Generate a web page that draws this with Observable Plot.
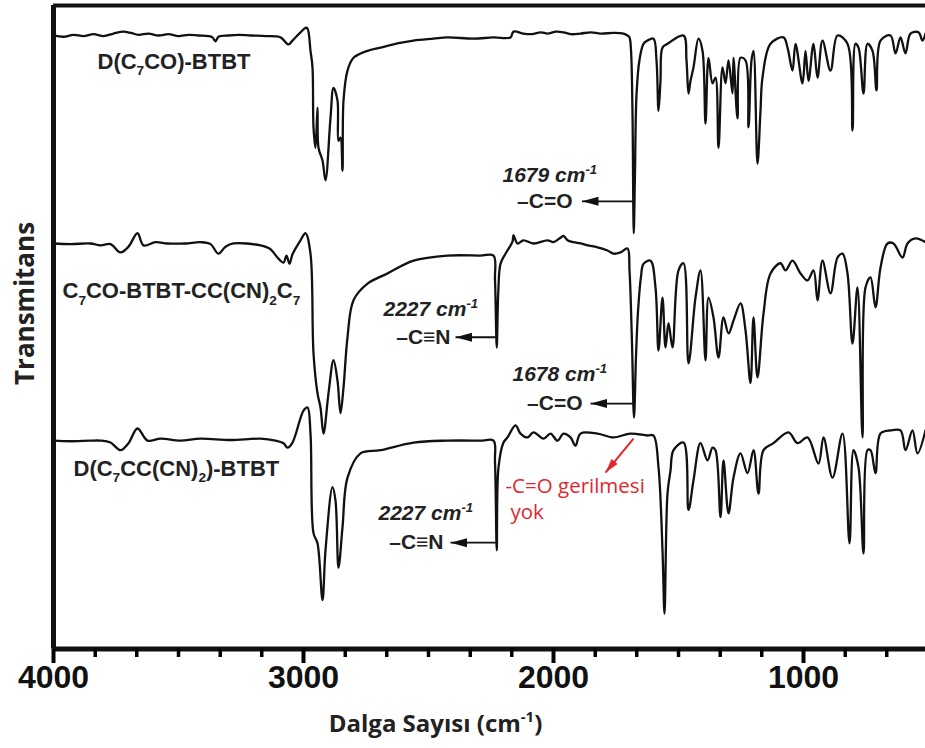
<!DOCTYPE html>
<html><head><meta charset="utf-8">
<script src="https://cdn.jsdelivr.net/npm/d3@7"></script>
<script src="https://cdn.jsdelivr.net/npm/@observablehq/plot@0.6"></script>
<style>
html,body{margin:0;padding:0;background:#fff;}
#chart svg{display:block;}
</style></head><body><div id="chart"></div>
<script>
// ---- Spectra: [wavenumber cm-1, transmittance (a.u., offset traces)] ----
const spectrumA = [[4000,95.3],[3960,95.1],[3920,95.4],[3880,95.2],[3840,95.5],[3800,95.2],[3760,95.6],[3720,95.9],[3690,95.7],[3660,95.4],[3620,95.6],[3580,95.3],[3540,95.5],[3500,95.2],[3460,95.4],[3420,95.3],[3380,95.2],[3364,95.0],[3352,94.4],[3340,95.1],[3300,95.3],[3260,95.4],[3212,95.3],[3150,95.2],[3092,95.0],[3060,93.9],[3044,94.5],[3012,95.8],[2992,96.5],[2984,96.4],[2972,92.9],[2964,90.3],[2960,80.9],[2952,77.7],[2944,84.0],[2940,77.7],[2924,75.7],[2912,72.6],[2892,82.4],[2880,87.1],[2864,85.1],[2860,78.8],[2852,79.3],[2844,74.1],[2840,85.1],[2824,89.8],[2800,91.8],[2744,92.9],[2692,93.4],[2620,94.1],[2560,94.5],[2480,94.8],[2424,95.0],[2320,94.8],[2240,95.0],[2172,95.0],[2160,95.9],[2120,95.6],[2092,95.5],[2050,95.8],[2024,95.6],[1990,95.9],[1960,95.8],[1930,95.5],[1892,95.6],[1850,95.8],[1812,95.6],[1760,95.7],[1720,95.6],[1704,95.3],[1696,95.0],[1690,93.0],[1684,83.0],[1679,64.3],[1674,74.0],[1668,86.0],[1656,91.5],[1640,94.0],[1624,94.5],[1600,94.8],[1588,91.4],[1580,83.5],[1572,88.2],[1564,93.4],[1544,94.0],[1480,95.3],[1468,91.4],[1460,86.2],[1452,88.2],[1440,90.3],[1420,94.8],[1404,92.9],[1392,81.5],[1380,91.8],[1364,87.8],[1352,88.7],[1340,77.7],[1324,90.3],[1312,87.8],[1300,91.4],[1284,86.2],[1280,91.8],[1264,82.3],[1252,91.8],[1232,91.4],[1220,80.9],[1208,91.4],[1200,92.9],[1184,75.2],[1172,83.5],[1164,88.7],[1132,94.0],[1080,95.0],[1064,93.4],[1044,89.8],[1032,94.0],[1004,87.8],[992,92.9],[980,88.2],[960,94.0],[944,88.7],[924,94.5],[892,89.8],[864,95.3],[824,94.0],[804,80.4],[792,94.0],[780,93.4],[760,86.2],[744,94.0],[724,92.9],[708,86.7],[692,94.5],[652,95.3],[632,92.5],[612,95.0],[592,92.5],[572,95.6],[540,95.8],[524,94.5],[512,95.6]];

const spectrumB = [[4000,62.7],[3932,62.6],[3852,62.7],[3812,62.4],[3772,62.6],[3732,61.3],[3700,62.2],[3664,64.3],[3640,62.4],[3592,62.9],[3544,62.7],[3472,62.7],[3412,62.9],[3372,62.6],[3340,61.1],[3312,62.2],[3280,62.7],[3172,62.4],[3132,61.8],[3104,60.5],[3080,59.7],[3068,60.8],[3056,59.5],[3044,61.0],[3012,63.2],[2992,64.3],[2972,61.1],[2960,45.5],[2944,39.2],[2932,37.0],[2920,32.9],[2900,39.2],[2880,44.4],[2864,41.2],[2852,36.1],[2840,40.1],[2824,48.0],[2800,53.8],[2744,56.4],[2664,58.0],[2560,60.0],[2424,60.8],[2292,60.8],[2240,60.8],[2234,57.0],[2227,46.4],[2221,55.0],[2212,59.5],[2192,61.1],[2164,63.0],[2160,64.0],[2144,62.7],[2120,63.2],[2080,62.7],[2024,63.2],[2000,62.9],[1972,63.6],[1960,63.9],[1944,63.2],[1920,62.9],[1892,62.7],[1864,62.4],[1824,62.1],[1784,61.6],[1760,61.1],[1732,61.3],[1704,61.9],[1696,58.5],[1686,47.0],[1678,35.4],[1670,45.0],[1662,52.0],[1650,57.5],[1640,59.5],[1612,60.0],[1592,55.8],[1580,45.9],[1564,54.2],[1552,46.4],[1540,50.2],[1524,46.4],[1500,58.5],[1480,59.6],[1460,43.9],[1432,54.2],[1412,58.5],[1392,44.4],[1380,54.2],[1360,51.1],[1340,44.8],[1320,51.1],[1300,48.6],[1280,50.6],[1252,53.3],[1232,49.1],[1212,40.8],[1200,51.1],[1184,41.7],[1160,51.7],[1132,58.0],[1092,59.6],[1072,58.5],[1044,60.0],[1012,58.0],[984,56.9],[960,58.5],[944,53.8],[924,60.0],[892,54.9],[864,60.5],[844,61.1],[824,58.0],[804,47.0],[784,55.8],[764,32.3],[752,55.8],[732,57.4],[712,52.7],[692,58.9],[664,62.7],[640,62.7],[604,60.5],[584,62.7],[552,63.5],[512,62.9]];

const spectrumC = [[4000,31.8],[3932,31.7],[3852,31.8],[3812,31.8],[3772,31.5],[3732,30.3],[3700,31.4],[3664,33.7],[3624,31.8],[3572,32.1],[3492,31.8],[3412,32.1],[3292,31.9],[3172,32.1],[3112,31.8],[3080,31.4],[3064,30.7],[3044,31.5],[3000,36.5],[2984,37.0],[2972,32.9],[2960,17.3],[2944,15.7],[2924,6.8],[2912,14.6],[2884,24.5],[2872,22.4],[2860,11.9],[2844,18.2],[2824,26.0],[2772,29.8],[2692,30.3],[2560,31.5],[2424,31.8],[2292,31.8],[2240,31.8],[2234,28.5],[2227,14.6],[2220,27.6],[2200,31.5],[2184,32.3],[2152,34.2],[2132,32.9],[2104,32.3],[2080,33.1],[2040,32.1],[2012,32.9],[1984,31.8],[1960,32.9],[1932,32.3],[1912,31.0],[1892,32.9],[1824,32.9],[1760,32.3],[1692,32.9],[1624,32.6],[1600,32.6],[1580,27.6],[1564,14.6],[1556,4.7],[1544,23.5],[1532,27.1],[1520,30.3],[1480,31.5],[1460,20.9],[1440,25.6],[1412,31.4],[1384,28.7],[1364,30.7],[1352,30.3],[1332,19.8],[1320,28.7],[1300,20.4],[1280,26.0],[1252,29.8],[1224,26.7],[1200,30.3],[1180,23.5],[1160,30.3],[1120,31.4],[1060,33.1],[1024,31.4],[984,32.3],[940,28.2],[920,32.3],[884,26.0],[844,32.9],[816,15.7],[800,30.3],[780,27.6],[760,14.1],[744,30.3],[732,30.3],[712,26.7],[692,32.9],[652,33.4],[612,33.4],[592,30.3],[564,33.4],[544,29.8],[512,33.4]];

// ---- Axes ----
const xDomain = [4000, 512];
const yDomain = [-0.86, 100];
const majorTicks = [4000, 3000, 2000, 1000];
const minorTicks = [3833,3667,3500,3333,3167,2833,2667,2500,2333,2167,1833,1667,1500,1333,1167,833,667];
const xLabel = "Dalga Sayısı (cm⁻¹)";
const xLabelWn = 2472, xLabelT = -12.6;
const yLabel = "Transmitans";
const yLabelWn = 4110, yLabelT = 53.3;

// ---- Series labels ----
const seriesNames = ["D(C₇CO)-BTBT", "C₇CO-BTBT-CC(CN)₂C₇", "D(C₇CC(CN)₂)-BTBT"];
const seriesLabelWn = [3824, 3964, 3920];
const seriesLabelT = [91.1, 55.2, 27.4];

// ---- Peak annotations ----
const peakText = ["1679 cm⁻¹", "2227 cm⁻¹", "1678 cm⁻¹", "2227 cm⁻¹"];
const peakTextWn = [2204, 2680, 2164, 2700];
const peakTextT = [73.4, 52.4, 42.2, 20.4];
const bondText = ["–C=O", "–C≡N", "–C=O", "–C≡N"];
const bondTextWn = [1924, 2412, 1884, 2440];
const arrowFromWn = [1679, 2227, 1678, 2227];
const arrowTipWn = [1886, 2392, 1852, 2412];
const arrowT = [69.3, 48.0, 37.6, 15.8];

// ---- Red note ----
const noteText = ["-C=O gerilmesi", "yok"];
const noteWn = [2192, 2172];
const noteT = [24.6, 20.5];
const noteArrowWn = [1680, 1792];
const noteArrowT = [32.1, 26.8];

const rows = [];
[spectrumA, spectrumB, spectrumC].forEach((s, k) => s.forEach(([wn, t]) => rows.push({series: seriesNames[k], wn, t})));

const idx4 = [0,1,2,3];
const arrowHead = {
  draw(ctx, size) {
    const r = Math.sqrt(size / Math.PI);
    ctx.moveTo(0, 0);
    ctx.lineTo(2.2 * r, -0.6 * r);
    ctx.lineTo(2.2 * r, 0.6 * r);
    ctx.closePath();
  }
};
const ARIAL = "Liberation Sans, Arial, sans-serif";
const OPEN = "Open Sans, sans-serif";

const plot = Plot.plot({
  width: 925,
  height: 748,
  marginLeft: 53,
  marginRight: 0,
  marginTop: 5,
  marginBottom: 99.5,
  style: {background: "white", overflow: "visible"},
  x: {domain: xDomain, label: null},
  y: {domain: yDomain, label: null, axis: null},
  marks: [
    Plot.line(rows, {x: "wn", y: "t", z: "series", stroke: "#111", strokeWidth: 2.3, strokeLinejoin: "round", curve: "catmull-rom"}),
    // frame (top, left, bottom)
    Plot.ruleY([yDomain[1]], {stroke: "#111", strokeWidth: 4}),
    Plot.ruleY([yDomain[0]], {stroke: "#111", strokeWidth: 5}),
    Plot.ruleX([xDomain[0]], {stroke: "#111", strokeWidth: 5}),
    // axis ticks
    Plot.axisX({ticks: minorTicks, tickSize: 8.5, strokeWidth: 3.5, tickFormat: () => "", label: null}),
    Plot.axisX({ticks: majorTicks, tickSize: 14.5, tickPadding: 2, strokeWidth: 4, tickFormat: d => String(d),
      fontSize: 32, fontWeight: "bold", fontFamily: ARIAL, fill: "#111", label: null}),
    // axis labels
    Plot.text([xLabel], {x: [xLabelWn], y: [xLabelT], text: d => d, fontSize: 24, fontWeight: "bold", fontFamily: OPEN, fill: "#222"}),
    Plot.text([yLabel], {x: [yLabelWn], y: [yLabelT], rotate: -90, text: d => d, fontSize: 26, fontWeight: "bold", fontFamily: OPEN, fill: "#222"}),
    // series labels
    Plot.text(seriesNames, {x: seriesLabelWn, y: seriesLabelT, text: d => d, textAnchor: "start", fontSize: 22, fontWeight: "bold", fontFamily: ARIAL, fill: "#222"}),
    // peak annotations
    Plot.text(peakText, {x: peakTextWn, y: peakTextT, text: d => d, textAnchor: "start", fontSize: 21, fontWeight: "bold", fontStyle: "italic", fontFamily: ARIAL, fill: "#222"}),
    Plot.text(bondText, {x: bondTextWn, y: arrowT, text: d => d, textAnchor: "end", fontSize: 21, fontWeight: "bold", fontFamily: ARIAL, fill: "#222"}),
    Plot.link(idx4, {x1: i => arrowFromWn[i], x2: i => arrowTipWn[i], y1: i => arrowT[i], y2: i => arrowT[i], stroke: "#111", strokeWidth: 1.8}),
    Plot.dot(idx4, {x: i => arrowTipWn[i], y: i => arrowT[i], symbol: arrowHead, r: 7.5, fill: "#111", stroke: "none"}),
    // red note
    Plot.text(noteText, {x: noteWn, y: noteT, text: d => d, textAnchor: "start", fontSize: 20.5, fontFamily: OPEN, fill: "#e3262d"}),
    Plot.link([0], {x1: noteArrowWn[0], y1: noteArrowT[0], x2: noteArrowWn[1], y2: noteArrowT[1], stroke: "#e3262d", strokeWidth: 2}),
    Plot.dot([0], {x: noteArrowWn[1], y: noteArrowT[1], symbol: arrowHead, r: 6.5, rotate: -50.5, fill: "#e3262d", stroke: "none"})
  ]
});

document.getElementById("chart").appendChild(plot);

// convert unicode sub/superscripts into shifted tspans
const SUB = {"₇": "7", "₂": "2"};
const SUP = {"⁻": "-", "¹": "1"};
plot.querySelectorAll("text").forEach(t => {
  const s = t.textContent;
  if (!/[₇₂⁻¹]/.test(s)) return;
  const fs = parseFloat(getComputedStyle(t).fontSize) || 16;
  const runs = [];
  for (const ch of s) {
    const type = ch in SUB ? "sub" : ch in SUP ? "sup" : "n";
    const c = SUB[ch] || SUP[ch] || ch;
    if (runs.length && runs[runs.length - 1].type === type) runs[runs.length - 1].s += c;
    else runs.push({type, s: c});
  }
  while (t.firstChild) t.removeChild(t.firstChild);
  let shift = 0;
  for (const r of runs) {
    const ts = document.createElementNS("http://www.w3.org/2000/svg", "tspan");
    ts.textContent = r.s;
    const target = r.type === "sub" ? 0.28 * fs : r.type === "sup" ? -0.4 * fs : 0;
    if (target !== shift) { ts.setAttribute("dy", target - shift); shift = target; }
    if (r.type !== "n") ts.setAttribute("font-size", 0.62 * fs);
    t.appendChild(ts);
  }
});
</script>
</body></html>
